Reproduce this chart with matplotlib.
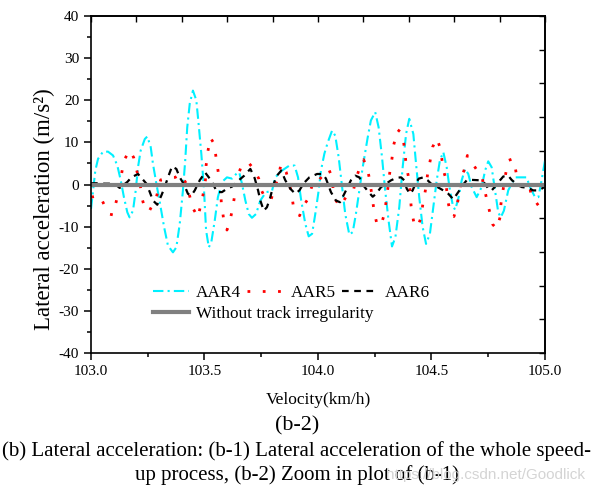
import matplotlib
matplotlib.use("Agg")
import matplotlib.pyplot as plt
import numpy as np

plt.rcParams['font.family'] = ['Liberation Serif', 'DejaVu Serif']
plt.rcParams['axes.unicode_minus'] = False

# AAR4 (cyan dash-dot)
aar4_v = [103.000, 103.009, 103.019, 103.031, 103.053, 103.075, 103.097, 103.116, 103.131, 103.145,
          103.160, 103.170, 103.185, 103.197, 103.207, 103.219, 103.237, 103.248, 103.263, 103.273,
          103.288, 103.303, 103.322, 103.339, 103.361, 103.376, 103.391, 103.405, 103.415, 103.424,
          103.435, 103.449, 103.464, 103.474, 103.486, 103.498, 103.507, 103.519, 103.530, 103.545,
          103.559, 103.577, 103.599, 103.621, 103.643, 103.653, 103.665, 103.680, 103.695, 103.709,
          103.727, 103.746, 103.771, 103.797, 103.812, 103.841, 103.874, 103.897, 103.912, 103.926,
          103.944, 103.959, 103.974, 103.988, 104.003, 104.013, 104.028, 104.043, 104.062, 104.076,
          104.091, 104.106, 104.120, 104.138, 104.153, 104.167, 104.182, 104.197, 104.219, 104.233,
          104.252, 104.267, 104.282, 104.296, 104.311, 104.326, 104.341, 104.358, 104.373, 104.388,
          104.402, 104.420, 104.432, 104.446, 104.461, 104.476, 104.493, 104.508, 104.523, 104.537,
          104.552, 104.567, 104.579, 104.594, 104.604, 104.618, 104.633, 104.648, 104.662, 104.677,
          104.699, 104.721, 104.736, 104.750, 104.765, 104.780, 104.794, 104.805, 104.819, 104.838,
          104.868, 104.897, 104.919, 104.934, 104.956, 104.971, 104.985, 105.000]
aar4_a = [-5.8, -1.4, 3.3, 6.1, 7.8, 7.8, 6.9, 4.5, 1.0, -3.0,
          -6.6, -7.8, -6.2, -1.4, 4.1, 8.1, 10.8, 11.4, 8.9, 4.9,
          0.2, -4.2, -10.1, -14.5, -16.1, -14.9, -9.3, -1.4, 5.7, 13.6,
          19.2, 22.3, 20.0, 14.4, 7.3, -1.4, -10.9, -14.9, -13.7, -8.6,
          -3.0, 0.6, 1.7, 1.4, 2.7, 2.9, 0.2, -3.8, -7.0, -7.9,
          -7.0, -3.8, -1.8, -1.6, 1.7, 3.3, 4.5, 4.5, 1.7, -3.8,
          -9.3, -12.3, -11.7, -7.0, -1.4, 3.3, 7.3, 10.0, 12.8, 11.6,
          6.5, -0.6, -7.0, -11.9, -11.3, -7.0, -1.4, 4.1, 11.2, 15.2,
          17.2, 13.6, 6.5, -1.4, -8.6, -14.7, -12.5, -5.4, 4.1, 12.0,
          15.6, 12.0, 4.9, -3.0, -10.1, -14.1, -11.7, -5.4, 1.0, 5.7,
          7.7, 4.1, -0.6, -5.0, -6.0, -3.4, 1.0, 3.7, 2.5, -0.6,
          -3.0, -0.6, 3.3, 5.5, 4.1, -1.4, -6.6, -7.8, -6.2, -1.4,
          1.7, 1.7, 1.7, -0.6, -3.0, -3.0, 1.0, 5.7]

# AAR5 (red dotted)
aar5_v = [103.001, 103.038, 103.060, 103.078, 103.097, 103.109, 103.122, 103.131, 103.141, 103.145,
          103.170, 103.188, 103.200, 103.215, 103.225, 103.237, 103.256, 103.288, 103.307, 103.342,
          103.371, 103.395, 103.420, 103.449, 103.471, 103.493, 103.504, 103.507, 103.515, 103.526,
          103.541, 103.545, 103.552, 103.563, 103.570, 103.574, 103.577, 103.585, 103.599, 103.614,
          103.626, 103.636, 103.643, 103.662, 103.692, 103.717, 103.739, 103.750, 103.771, 103.793,
          103.809, 103.827, 103.837, 103.860, 103.874, 103.885, 103.893, 103.919, 103.937, 103.956,
          103.981, 104.003, 104.047, 104.062, 104.067, 104.079, 104.097, 104.123, 104.156, 104.167,
          104.182, 104.201, 104.219, 104.229, 104.248, 104.260, 104.278, 104.292, 104.303, 104.317,
          104.326, 104.333, 104.339, 104.351, 104.370, 104.378, 104.385, 104.388, 104.400, 104.407,
          104.410, 104.418, 104.424, 104.439, 104.454, 104.461, 104.473, 104.483, 104.495, 104.505,
          104.523, 104.537, 104.555, 104.563, 104.567, 104.574, 104.585, 104.599, 104.611, 104.626,
          104.633, 104.648, 104.658, 104.677, 104.699, 104.721, 104.746, 104.758, 104.770, 104.787,
          104.802, 104.806, 104.814, 104.828, 104.838, 104.858, 104.870, 104.878, 104.897, 104.934,
          104.941, 104.956, 104.971, 104.990, 105.000]
aar5_a = [-3.0, -2.6, -5.0, -7.0, -7.2, -4.5, -1.8, 1.4, 4.5, 5.7,
          8.1, 6.4, 3.6, 0.6, -3.3, -5.7, -6.4, -3.0, 1.1, 1.7,
          1.7, 2.5, 0.2, -5.6, -7.8, -2.6, 1.0, 4.5, 7.9, 11.1,
          9.8, 8.9, 5.9, 2.1, -0.8, -4.2, -5.2, -8.6, -10.8, -8.2,
          -5.0, -1.4, 1.5, 4.3, 5.3, 3.7, 1.4, -1.3, -3.6, -3.6,
          -0.8, 2.1, 4.9, 2.9, 0.2, -2.6, -5.8, -7.4, -5.0, -3.4,
          1.0, 1.0, 3.7, 1.7, -1.3, -3.8, -5.2, -3.0, -1.4, 1.3,
          3.7, 5.9, 3.5, 0.6, -6.6, -9.5, -9.7, -7.0, -3.0, 3.2,
          6.2, 9.3, 10.5, 13.0, 12.2, 9.7, 6.5, 4.7, 1.4, -2.2,
          -5.0, -7.8, -9.5, -10.1, -7.8, -5.0, -1.4, 2.5, 5.9, 8.9,
          11.0, 8.9, 2.9, 1.4, -1.4, -4.4, -7.4, -7.6, -5.4, -1.0,
          1.7, 4.1, 6.9, 5.3, 3.5, 2.1, -4.2, -6.8, -9.5, -10.5,
          -7.8, -4.6, -1.7, 2.9, 5.7, 6.1, 3.7, 1.1, -1.2, -1.0,
          -3.0, -3.8, -5.0, -5.4, -5.2]

# AAR6 (black dashed)
aar6_v = [103.000, 103.030, 103.061, 103.104, 103.126, 103.160, 103.178, 103.207, 103.225, 103.244,
          103.259, 103.273, 103.292, 103.310, 103.325, 103.339, 103.357, 103.376, 103.391, 103.410,
          103.427, 103.442, 103.457, 103.479, 103.498, 103.502, 103.519, 103.537, 103.555, 103.577,
          103.599, 103.621, 103.651, 103.675, 103.702, 103.721, 103.736, 103.746, 103.761, 103.775,
          103.790, 103.805, 103.819, 103.838, 103.856, 103.878, 103.900, 103.918, 103.937, 103.962,
          103.996, 104.021, 104.035, 104.057, 104.079, 104.097, 104.116, 104.145, 104.164, 104.182,
          104.204, 104.223, 104.241, 104.256, 104.278, 104.300, 104.322, 104.347, 104.366, 104.380,
          104.391, 104.405, 104.417, 104.429, 104.444, 104.464, 104.483, 104.498, 104.523, 104.552,
          104.574, 104.596, 104.618, 104.640, 104.655, 104.677, 104.714, 104.736, 104.750, 104.765,
          104.780, 104.802, 104.816, 104.838, 104.853, 104.872, 104.897, 104.926, 104.948, 104.971,
          104.985, 105.000]
aar6_a = [0.3, 0.3, 0.2, 0.2, -0.8, 0.6, 1.7, 2.5, 1.4, 0.2,
          -1.8, -3.8, -4.8, -2.6, -0.6, 1.7, 4.3, 3.7, 1.7, 0.0,
          -2.2, -2.6, -1.4, 1.0, 2.5, 2.9, 1.7, 0.2, -1.8, -1.8,
          -1.0, -0.5, 1.0, 2.1, 3.7, 1.5, -1.4, -3.8, -6.2, -5.4,
          -3.0, 0.2, 2.1, 3.3, 1.0, -1.0, -2.2, -1.4, 0.3, 1.7,
          2.5, 2.5, 1.4, -1.8, -3.8, -4.2, -2.2, 1.0, 2.1, 1.7,
          -0.5, -1.8, -2.9, -2.2, -0.6, 0.2, 1.0, 1.6, 1.7, 1.0,
          -1.0, -2.2, -1.4, 0.2, 1.4, 1.7, 1.0, 0.2, -0.5, -1.4,
          -2.2, -3.5, -1.8, 0.0, 1.0, 1.1, 1.0, 0.2, -1.0, -1.4,
          -0.5, 1.0, 1.9, 2.1, 1.1, 0.2, -0.6, -0.8, -1.4, -1.4,
          -1.0, -0.5]

# Without track irregularity (gray)
base_v = [103.0, 105.0]
base_a = [0.0, 0.0]

x_ticks = [103.0, 103.5, 104.0, 104.5, 105.0]
x_labels = ['103.0', '103.5', '104.0', '104.5', '105.0']
y_ticks = [-40, -30, -20, -10, 0, 10, 20, 30, 40]
top_ticks = [103.0, 103.2, 103.4, 103.6, 103.8, 104.0, 104.2, 104.4, 104.6, 104.8, 105.0]
right_ticks = [-40, -32, -24, -16, -8, 0, 8, 16, 24, 32, 40]

fig = plt.figure(figsize=(5.94, 4.96), dpi=100)
ax = fig.add_axes([0.1532, 0.2883, 0.7643, 0.6794])

l4, = ax.plot(aar4_v, aar4_a, color='#00f0ff', lw=1.5, linestyle=(0, (5, 2, 1, 2)), label='AAR4')
l5, = ax.plot(aar5_v, aar5_a, color='#ff0000', lw=2.0, linestyle=(0, (1, 4.5)), label='AAR5')
l6, = ax.plot(aar6_v, aar6_a, color='black', lw=1.6, linestyle=(0, (3, 2.5)), label='AAR6')
lb, = ax.plot(base_v, base_a, color='#808080', lw=3.0, label='Without track irregularity')

ax.set_xlim(103.0, 105.0)
ax.set_ylim(-40, 40)
ax.set_xticks(x_ticks)
ax.set_xticklabels(x_labels)
ax.set_yticks(y_ticks)
ax.set_xticks(np.arange(103.25, 105.0, 0.5), minor=True)
ax.set_yticks(np.arange(-35, 40, 10), minor=True)
ax.tick_params(axis='both', which='major', direction='out', length=5, width=1.1, labelsize=11)
ax.tick_params(axis='both', which='minor', direction='out', length=3, width=1.1)
for s in ax.spines.values():
    s.set_linewidth(1.2)

top = ax.secondary_xaxis('top')
top.set_xticks(top_ticks)
top.tick_params(direction='in', length=4, width=1.0, labeltop=False)
top.spines['top'].set_linewidth(1.2)
right = ax.secondary_yaxis('right')
right.set_yticks(right_ticks)
right.tick_params(direction='in', length=4, width=1.0, labelright=False)
right.spines['right'].set_linewidth(1.2)

ax.set_xlabel('Velocity(km/h)', fontsize=12.5, labelpad=10)
ax.set_ylabel('Lateral acceleration (m/s²)', fontsize=16.5)
ax.yaxis.set_label_coords(-0.079, 0.427)

leg1 = ax.legend(handles=[l4, l5, l6], ncol=3, frameon=False, loc='center left',
                 bbox_to_anchor=(0.137, 0.178), fontsize=12.4, handlelength=2.1,
                 handletextpad=0.4, columnspacing=0.35, borderpad=0, borderaxespad=0)
ax.add_artist(leg1)
ax.legend(handles=[lb], frameon=False, loc='center left', bbox_to_anchor=(0.137, 0.115),
          fontsize=12.4, handlelength=2.1, handletextpad=0.4, borderpad=0, borderaxespad=0)

fig.text(0.5, 1 - 426 / 496, '(b-2)', ha='center', va='center', fontsize=15.8)
fig.text(0.5, 1 - 451 / 496,
         '(b) Lateral acceleration: (b-1) Lateral acceleration of the whole speed-',
         ha='center', va='center', fontsize=15)
fig.text(0.5, 1 - 475 / 496, 'up process, (b-2) Zoom in plot of (b-1)',
         ha='center', va='center', fontsize=15)
fig.text(0.985, 1 - 475 / 496, 'https://blog.csdn.net/Goodlick', ha='right', va='center',
         fontsize=11, color='#d4d4d4', family='Liberation Sans')

fig.savefig('out.png', dpi=100)
